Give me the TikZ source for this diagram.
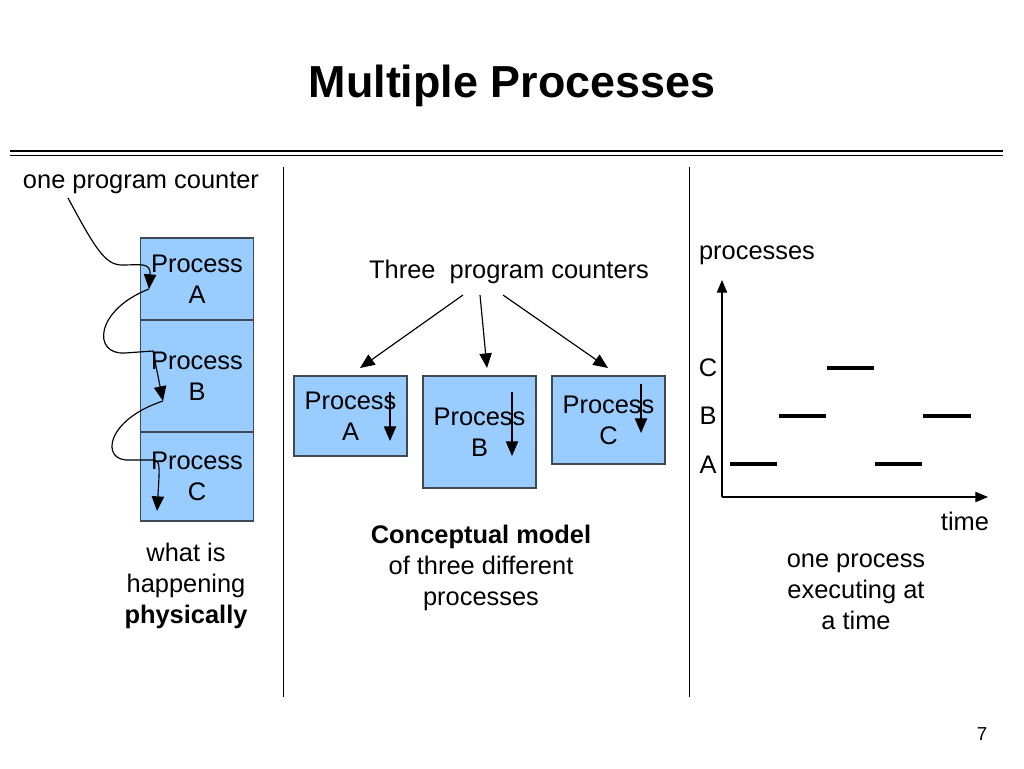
\documentclass[tikz,border=0pt]{standalone}
\usepackage{fontspec}
\setmainfont{Liberation Sans}
\usetikzlibrary{arrows.meta}
\definecolor{procblue}{RGB}{153,204,255}
\definecolor{procedge}{RGB}{64,72,84}
\tikzset{
  txt/.style={font=\fontsize{21.7}{26.4}\selectfont,inner sep=0pt,align=center},
  proc/.style={txt,draw=procedge,fill=procblue,line width=0.35mm,minimum width=34mm},
  pc/.style={line width=0.35mm,-{Triangle[length=4.4mm,width=3.7mm]}},
  axis/.style={line width=0.35mm,-{Triangle[length=3.8mm,width=3.1mm]}},
  slot/.style={line width=1.2mm}
}
\begin{document}
\begin{tikzpicture}[x=0.3mm,y=-0.3mm]
\useasboundingbox (0,0) rectangle (1024,768);
\node[txt,font=\fontsize{38.3}{44}\selectfont\bfseries] (title) at (512,86) {Multiple Processes};
\draw[line width=0.6mm] (10,151) -- (1003,151);
\draw[line width=0.3mm] (10,155) -- (1003,155);
\draw[line width=0.3mm] (283,167) -- (283,697);
\draw[line width=0.3mm] (689,167) -- (689,697);

% one program counter
\node[txt] (onepc) at (141,183) {one program counter};
\node[proc,minimum height=24.6mm] (stackA) at (197,279) {Process\\A};
\node[proc,minimum height=33.6mm] (stackB) at (197,376) {Process\\B};
\node[proc,minimum height=26.7mm] (stackC) at (197,476.5) {Process\\C};
\coordinate (pcstart) at (68,198);
\coordinate (pcA) at (149,289);
\coordinate (pcB) at (163,401);
\coordinate (pcC) at (157,511);
\draw[pc] (pcstart) .. controls (95,248) and (105,265) .. (122,265)
  .. controls (140,265) and (151,262) .. (pcA);
\draw[pc] (pcA) .. controls (95,310) and (92,355) .. (125,353) -- (153,351) -- (pcB);
\draw[pc] (pcB) .. controls (105,420) and (100,462) .. (130,460) -- (153,460)
  .. controls (160,462) .. (pcC);
\node[txt] (physical) at (186,586) {what is\\happening\\\textbf{physically}};

% three program counters
\node[txt] (threepc) at (509,272) {Three~ program counters};
\node[proc,minimum width=33.9mm,minimum height=24mm] (procA) at (350.5,416) {Process\\A};
\node[proc,minimum width=33.9mm,minimum height=33.6mm] (procB) at (479.5,432) {Process\\B};
\node[proc,minimum width=33.9mm,minimum height=26.4mm] (procC) at (608.5,420) {Process\\C};
\foreach \s/\t/\n in {463/360/A,480/487/B,503/608/C}
{
  \coordinate (from\n) at (\s,295);
  \coordinate (to\n) at (\t,\ifx\n A376\else368\fi);
  \draw[pc] (from\n) -- (to\n);
}
\foreach \x/\a/\b/\n in {390/392/441/A,512/392/456/B,641/384/433/C}
{
  \coordinate (in\n) at (\x,\a);
  \coordinate (out\n) at (\x,\b);
  \draw[pc] (in\n) -- (out\n);
}
\node[txt] (concept) at (481,568) {\textbf{Conceptual model}\\of three different\\processes};

% one process at a time
\coordinate (origin) at (722,497);
\coordinate (ytip) at (722,280);
\coordinate (xtip) at (988,497);
\draw[axis] (origin) -- (ytip);
\draw[axis] (origin) -- (xtip);
\node[txt] (ylabel) at (757,255) {processes};
\node[txt] (xlabel) at (965,521) {time};
\node[txt] (labC) at (708,368) {C};
\node[txt] (labB) at (708,416) {B};
\node[txt] (labA) at (708,465) {A};
\foreach \a/\b/\y in {730/777/464,779/826/416,827/874/368,875/922/464,923/971/416}
  \draw[slot] (\a,\y) -- (\b,\y);
\node[txt] (onetime) at (856,592) {one process\\executing at\\a time};

\node[txt,font=\fontsize{16}{19}\selectfont] (page) at (982,734) {7};
\end{tikzpicture}
\end{document}
